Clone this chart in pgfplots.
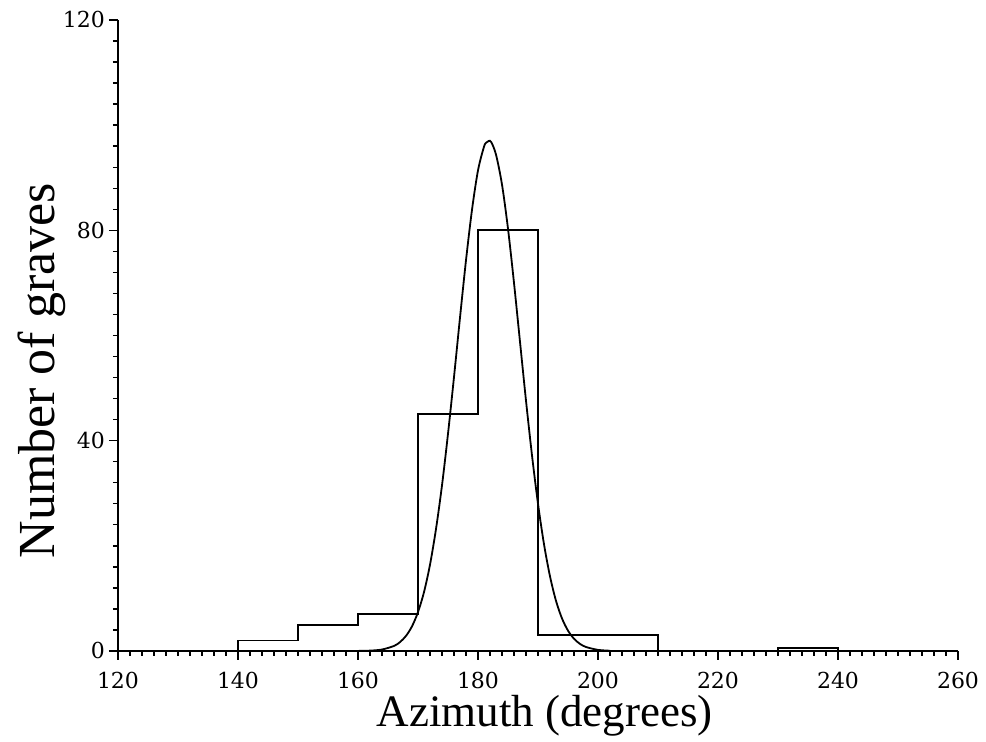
\documentclass[border=0pt]{standalone}
\usepackage{pgfplots}
\pgfplotsset{compat=1.18}
\usepackage{fontspec}
\setmainfont{Liberation Serif}
\newfontfamily\tickfont{DejaVu Serif}
\begin{document}
\begin{tikzpicture}
\begin{axis}[
  scale only axis,
  width=420pt, height=315.5pt,
  xmin=120, xmax=260, ymin=0, ymax=120,
  axis lines=left,
  axis line style={-, line width=0.9pt},
  xtick={120,140,...,260},
  ytick={0,40,80,120},
  minor x tick num=9,
  minor y tick num=9,
  tick align=outside,
  major tick length=4.5pt,
  minor tick length=2.5pt,
  every tick/.style={black, line width=0.7pt},
  /pgf/number format/assume math mode=true,
  tick label style={font=\tickfont\fontsize{11}{13}\selectfont},
  xticklabel style={anchor=north, yshift=-2.5pt},
  yticklabel style={xshift=1.5pt},
  xlabel={Azimuth (degrees)},
  xlabel style={at={(rel axis cs:0.508,0)}, anchor=base, yshift=-38pt, font=\fontsize{22.5}{26}\selectfont},
  clip=false,
]
\addplot[const plot, black, line width=0.9pt] coordinates {
  (140,0) (140,2) (150,5) (160,7) (170,45) (180,80) (190,3) (200,3) (210,0)
  (230,0.6) (240,0) (260,0)
};
\addplot[black, line width=0.9pt, smooth] coordinates {
  (160,0.015) (162,0.07) (164,0.28) (166,0.96) (167,1.69) (168,2.87) (169,4.69)
  (170,7.39) (171,11.2) (172,16.4) (173,23.2) (174,31.5) (175,41.3) (176,52.1)
  (177,63.4) (178,74.3) (179,83.9) (180,91.4) (181,95.9) (181.4,96.7) (181.8,97.0) (182.2,96.8)
  (183,94.4) (184,88.7) (185,80.3) (186,70.0) (187,58.8) (188,47.6) (189,37.2)
  (190,28.0) (191,20.3) (192,14.2) (193,9.54) (194,6.19) (195,3.87) (196,2.33)
  (197,1.35) (198,0.76) (200,0.21) (202,0.05)
};
\end{axis}
\path (current axis.south west) ++(-31.5pt,140.1pt) node[rotate=90, anchor=base, inner sep=0pt, font=\fontsize{26}{30}\selectfont] {Number of graves};
\pgfresetboundingbox
\path (current axis.south west) ++(-59pt,-45.5pt) coordinate (bbA);
\path (current axis.north east) ++(14pt,10pt) coordinate (bbB);
\path (bbA) rectangle (bbB);
\end{tikzpicture}
\end{document}
